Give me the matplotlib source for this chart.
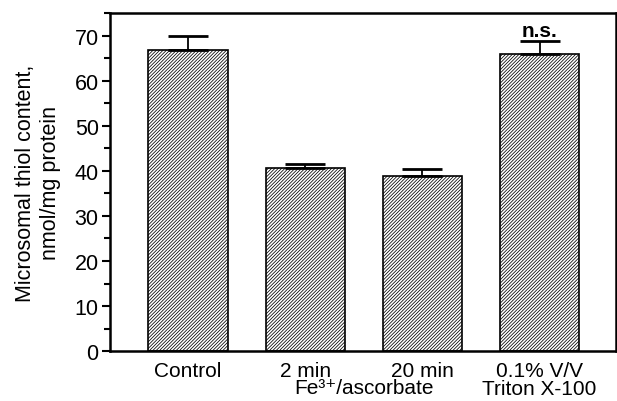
import matplotlib
matplotlib.use("Agg")
import matplotlib.pyplot as plt
from matplotlib.ticker import MultipleLocator
from matplotlib.transforms import blended_transform_factory

plt.rcParams['font.family'] = ['Liberation Sans', 'DejaVu Sans']
plt.rcParams['hatch.linewidth'] = 0.55
plt.rcParams['hatch.color'] = '#666666'

# data
groups = ["Control", "2 min", "20 min", "0.1% V/V\nTriton X-100"]
thiol = [66.9, 40.6, 38.9, 66.0]
err = [3.1, 0.9, 1.4, 2.8]
annot = ["", "", "", "n.s."]

fig = plt.figure(figsize=(6.17, 4.02), dpi=100)
ax = fig.add_axes([0.178, 0.124, 0.82, 0.841])

x = list(range(len(groups)))
ax.bar(x, thiol, width=0.675, color='white', edgecolor='black',
       linewidth=1.2, hatch='//////////', zorder=2)
ax.errorbar(x, thiol, yerr=[[0] * len(err), err], fmt='none', ecolor='black',
            elinewidth=1.3, capsize=14.5, capthick=2, zorder=3)

for xi, v, e, a in zip(x, thiol, err, annot):
    if a:
        ax.text(xi, v + e + 0.3, a, ha='center', va='bottom',
                fontsize=15, fontweight='bold')

ax.set_xlim(-0.667, 3.65)
ax.set_ylim(0, 75)
ax.yaxis.set_major_locator(MultipleLocator(10))
ax.yaxis.set_minor_locator(MultipleLocator(5))
ax.tick_params(axis='y', which='major', length=6, width=1.5, labelsize=15.5, pad=2)
ax.tick_params(axis='y', which='minor', length=4, width=1.5)
ax.tick_params(axis='x', length=0, labelsize=15, pad=7)
ax.set_xticks(x)
ax.set_xticklabels(groups, linespacing=0.95)
for sp in ax.spines.values():
    sp.set_linewidth(1.8)

trans = blended_transform_factory(ax.transData, ax.transAxes)
ax.annotate("Fe³⁺/ascorbate", xy=(1.5, 0), xycoords=trans,
            xytext=(0, -19), textcoords='offset points', ha='center',
            va='top', fontsize=15)

ax.set_ylabel("Microsomal thiol content,\nnmol/mg protein", fontsize=15.5,
              linespacing=1.25, labelpad=10)

fig.savefig("out.png", dpi=100)
